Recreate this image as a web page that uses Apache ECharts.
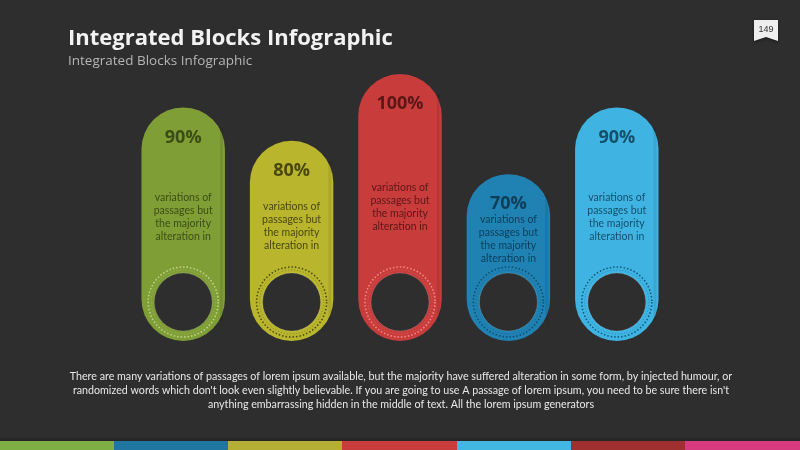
<!DOCTYPE html>
<html><head><meta charset="utf-8">
<script src="https://cdn.jsdelivr.net/npm/echarts@6/dist/echarts.min.js"></script>
<style>html,body{margin:0;padding:0;background:#2e2e2e}#c{width:800px;height:450px}</style>
</head><body><div id="c"></div>
<script>
const categories = ['Block 1', 'Block 2', 'Block 3', 'Block 4', 'Block 5'];
const values = [90, 80, 100, 70, 90];
const valueLabels = ['90%', '80%', '100%', '70%', '90%'];
const blockLines = ['variations of', 'passages but', 'the majority', 'alteration in'];
const blockColors = ['#7f9e36', '#b9b62d', '#c93c3c', '#1f82b3', '#3fb4e3'];
const textColors = ['#3b4d16', '#4a4810', '#5a1717', '#0d3d57', '#14506b'];
const ringColors = ['#c2d48a', '#4f4d12', '#f08a8a', '#0f4e70', '#0f5a7e'];
const stripColors = ['#7fae45', '#1f76a0', '#b5b035', '#c83c3c', '#42b7e2', '#a03030', '#d83a80'];
const titleText = 'Integrated Blocks Infographic';
const subtitleText = 'Integrated Blocks Infographic';
const pageNumber = '149';
const paragraph = [
  'There are many variations of passages of lorem ipsum available, but the majority have suffered alteration in some form, by injected humour, or',
  "randomized words which don't look even slightly believable. If you are going to use A passage of lorem ipsum, you need to be sure there isn't",
  'anything embarrassing hidden in the middle of text. All the lorem ipsum generators'
];

const BG = '#2e2e2e';
const Y_MIN = 20, Y_MAX = 100;
const LH = 13;

function renderItem(params, api) {
  const i = params.dataIndex;
  const v = api.value(1);
  const top = api.coord([api.value(0), v]);
  const base = api.coord([api.value(0), Y_MIN]);
  const cx = top[0];
  const w = api.size([1, 0])[0] * 0.77;
  const r = w / 2;
  const bottom = base[1];
  const cy = bottom - 39;
  const pctY = top[1] + 30;
  const textCenter = Math.max(186 + 0.2865 * top[1], pctY + 15.5 + 1.5 * LH);
  return {
    type: 'group',
    children: [
      { type: 'rect', shape: { x: cx - r, y: top[1], width: w, height: bottom - top[1], r: r },
        style: { fill: blockColors[i] } },
      { type: 'rect', shape: { x: cx + r - 5, y: top[1] + 20, width: 3, height: bottom - top[1] - 40 },
        style: { fill: 'rgba(0,0,0,0.08)' } },
      { type: 'circle', shape: { cx: cx, cy: cy, r: 35 },
        style: { fill: 'none', stroke: ringColors[i], lineWidth: 1.6, lineDash: [1.5, 2] } },
      { type: 'circle', shape: { cx: cx, cy: cy, r: 32 },
        style: { fill: 'none', stroke: ringColors[i], lineWidth: 0.8, lineDash: [1, 2], opacity: 0.6 } },
      { type: 'circle', shape: { cx: cx, cy: cy, r: 29 },
        style: { fill: BG, stroke: 'rgba(255,255,255,0.15)', lineWidth: 1 } },
      { type: 'text', style: { text: valueLabels[i], x: cx, y: pctY, align: 'center', verticalAlign: 'middle',
        fontFamily: 'Open Sans', fontWeight: 'bold', fontSize: 18, fill: textColors[i] } },
      { type: 'text', style: { text: blockLines.join('\n'), x: cx, y: textCenter, align: 'center', verticalAlign: 'middle',
        fontFamily: 'Lato', fontSize: 10.5, lineHeight: LH, fill: textColors[i] } }
    ]
  };
}

const chart = echarts.init(document.getElementById('c'), null, { renderer: 'canvas' });
const graphics = [];
stripColors.forEach((c, k) => {
  graphics.push({ type: 'rect', left: Math.floor(k * 800 / 7), top: 441,
    shape: { width: Math.ceil(800 / 7) + 1, height: 9 }, style: { fill: c }, silent: true });
});
graphics.push({ type: 'rect', left: 0, top: 438, shape: { width: 800, height: 3 }, style: { fill: '#262626' } });
graphics.push({ type: 'polygon', shape: { points: [[754, 20], [778, 20], [778, 41], [766, 37], [754, 41]] },
  style: { fill: '#eeeeee', shadowColor: 'rgba(0,0,0,0.5)', shadowBlur: 3, shadowOffsetY: 1 } });
graphics.push({ type: 'text', style: { text: pageNumber, x: 766, y: 29.5, align: 'center', verticalAlign: 'middle',
  fontFamily: 'Liberation Sans', fontSize: 9, fill: '#333' } });
paragraph.forEach((line, k) => {
  graphics.push({ type: 'text', style: { text: line, x: 401, y: 377 + k * 14, align: 'center', verticalAlign: 'middle',
    fontFamily: 'Lato', fontSize: 10.7, fill: '#e8e8e8' } });
});

chart.setOption({
  backgroundColor: BG,
  animation: false,
  title: [
    { text: titleText, left: 68, top: 28, padding: 0, textStyle: { color: '#f2f2f2', fontFamily: 'Open Sans', fontWeight: 'bold', fontSize: 22 } },
    { text: subtitleText, left: 68, top: 54, padding: 0, textStyle: { color: '#b5b5b5', fontFamily: 'Open Sans', fontWeight: 'normal', fontSize: 13.5 } }
  ],
  grid: { left: 129, right: 129, top: 74, bottom: 109 },
  xAxis: { type: 'category', data: categories, show: false },
  yAxis: { type: 'value', min: Y_MIN, max: Y_MAX, show: false },
  series: [{
    type: 'custom',
    renderItem: renderItem,
    data: values.map((v, i) => [i, v]),
    encode: { x: 0, y: 1 }
  }],
  graphic: graphics
});
</script></body></html>
